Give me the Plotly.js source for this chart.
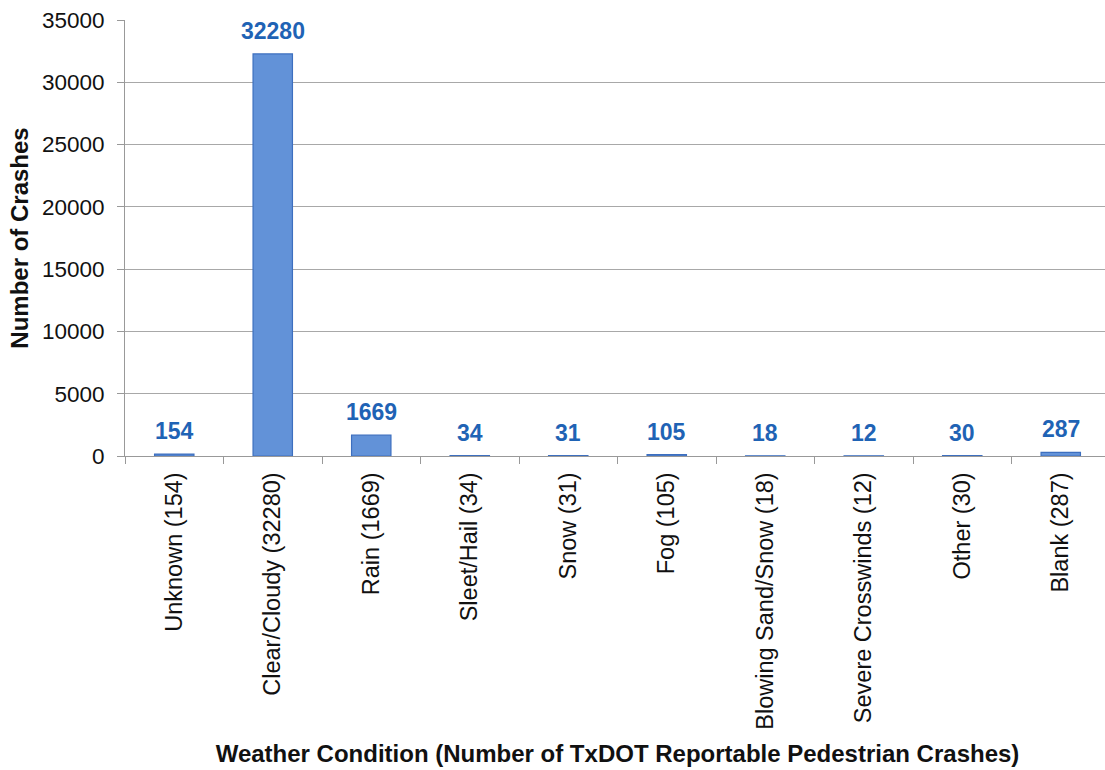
<!DOCTYPE html>
<html>
<head>
<meta charset="utf-8">
<script src="https://cdn.plot.ly/plotly-3.0.1.min.js"></script>
<style>html,body{margin:0;padding:0;overflow:hidden;background:#fff;}</style>
</head>
<body>
<div id="chart" style="width:1110px;height:770px;"></div>
<script>
const categories = ["Unknown (154)", "Clear/Cloudy (32280)", "Rain (1669)", "Sleet/Hail (34)", "Snow (31)", "Fog (105)", "Blowing Sand/Snow (18)", "Severe Crosswinds (12)", "Other (30)", "Blank (287)"];
const crashes = [154, 32280, 1669, 34, 31, 105, 18, 12, 30, 287];
const yTicks = [0, 5000, 10000, 15000, 20000, 25000, 30000, 35000];

const trace = {
  type: 'bar',
  x: categories,
  y: crashes,
  marker: {color: '#6292d8', line: {color: '#3d6fbf', width: 1.2}},
  hoverinfo: 'x+y'
};

const annotations = categories.map((c, i) => ({
  x: c, y: crashes[i], xref: 'x', yref: 'y',
  text: '<b>' + crashes[i] + '</b>',
  showarrow: false, yanchor: 'bottom', yshift: 8,
  font: {family: 'Arial, Liberation Sans, sans-serif', size: 23, color: '#1f63b5'}
}));

const layout = {
  width: 1110, height: 770,
  margin: {l: 125, r: 0, t: 20, b: 314},
  paper_bgcolor: '#fff', plot_bgcolor: '#fff',
  bargap: 0.6,
  showlegend: false,
  font: {family: 'Arial, Liberation Sans, sans-serif', color: '#111'},
  xaxis: {
    type: 'category',
    tickangle: -90,
    tickfont: {size: 23.5, color: '#111'},
    ticks: 'outside', ticklen: 7, tickcolor: '#999', tickson: 'boundaries',
    ticklabelstandoff: 6,
    showline: true, linecolor: '#999', linewidth: 1,
    showgrid: false,
    title: {text: '<b>Weather Condition (Number of TxDOT Reportable Pedestrian Crashes)</b>', font: {size: 24, color: '#111'}, standoff: 16},
    automargin: false
  },
  yaxis: {
    range: [0, 35000],
    tickvals: yTicks,
    ticktext: yTicks.map(String),
    tickfont: {size: 22.5, color: '#111'},
    ticks: 'outside', ticklen: 7, tickcolor: '#999',
    ticklabelstandoff: 8,
    showline: true, linecolor: '#999', linewidth: 1,
    showgrid: true, gridcolor: '#a8a8a8', gridwidth: 1,
    zeroline: false,
    title: {text: '<b>Number of Crashes</b>', font: {size: 24, color: '#111'}, standoff: 6},
    automargin: false
  },
  annotations: annotations
};

Plotly.newPlot('chart', [trace], layout, {displayModeBar: false, staticPlot: true});
</script>
</body>
</html>
